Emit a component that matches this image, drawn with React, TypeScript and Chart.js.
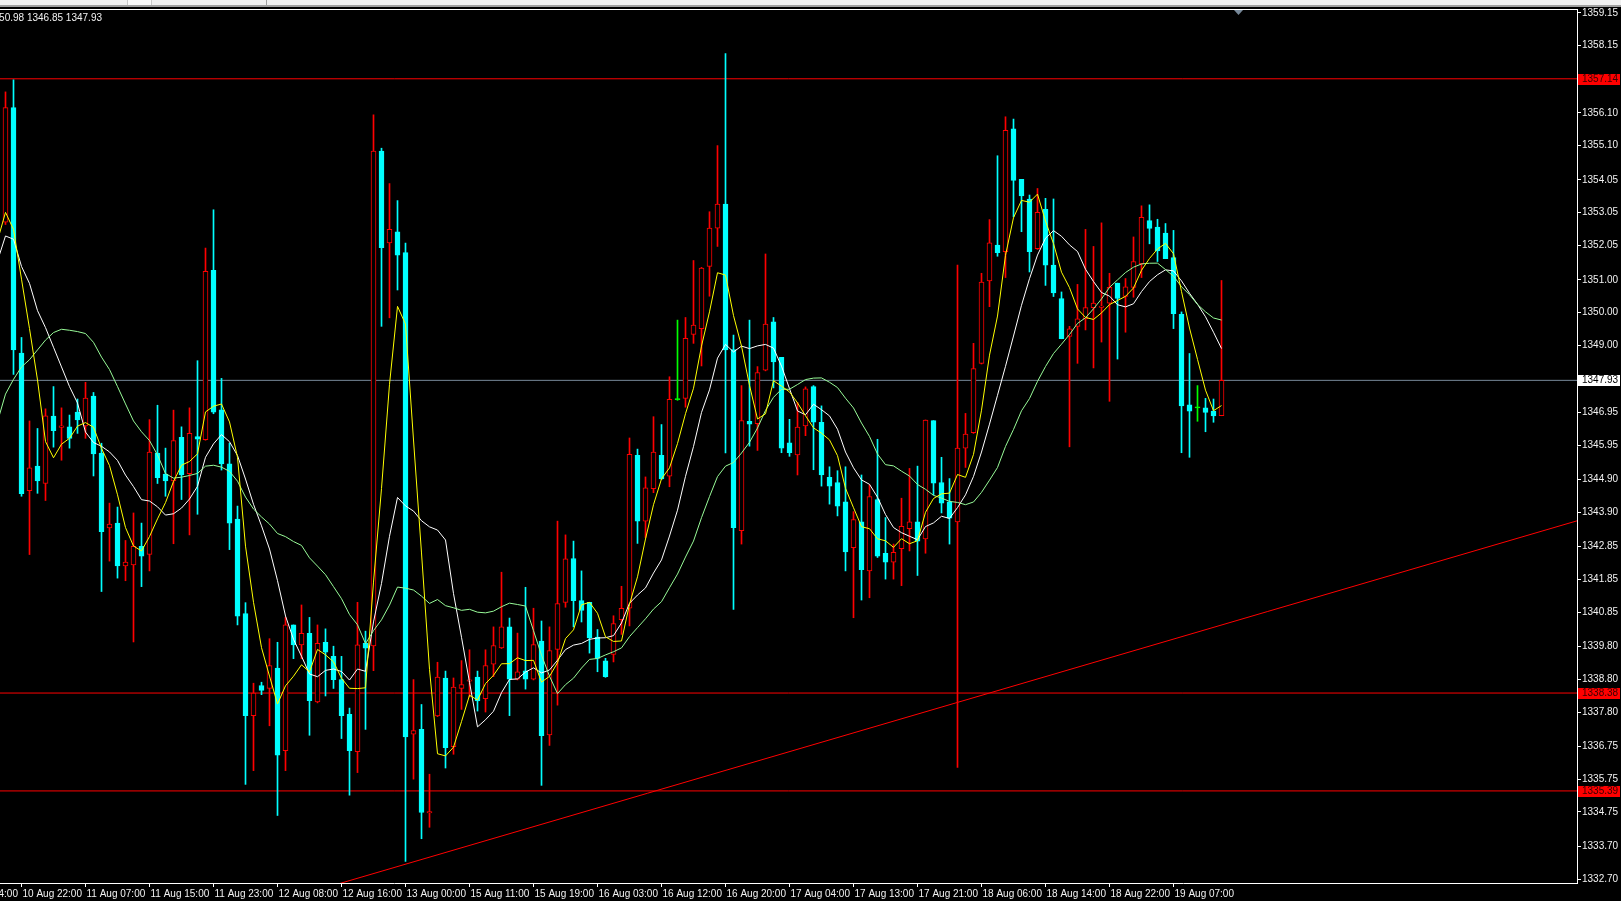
import React, { useEffect, useRef } from 'react';
import { Chart, registerables } from 'chart.js';

Chart.register(...registerables);

// ---- Data (H1 candles, index 0 = 10 Aug 20:00) ----
const opens = [
  1352.76, 1356.26, 1348.76, 1344.56, 1345.31, 1344.78, 1346.84, 1346.49, 1346.51, 1346.96,
  1346.54, 1347.45, 1345.71, 1343.42, 1343.57, 1342.26, 1342.29, 1342.86, 1342.61, 1345.71,
  1345.07, 1344.86, 1346.19, 1345.08, 1346.21, 1346.12, 1351.29, 1347.03, 1345.38, 1343.69,
  1340.81, 1337.69, 1338.61, 1338.52, 1339.14, 1336.62, 1340.46, 1339.85, 1340.20, 1338.11,
  1339.93, 1339.50, 1338.79, 1337.73, 1336.59, 1339.90, 1339.82, 1354.93, 1352.13, 1352.47,
  1351.83, 1337.12, 1337.27, 1334.72, 1337.68, 1338.84, 1336.74, 1338.52, 1338.74, 1338.87,
  1338.21, 1339.26, 1339.76, 1340.40, 1338.80, 1339.06, 1338.80, 1339.97, 1337.10, 1339.71,
  1341.15, 1342.49, 1341.20, 1341.15, 1340.09, 1339.36, 1339.56, 1340.62, 1340.97, 1345.64,
  1343.63, 1344.62, 1345.64, 1345.00, 1347.34, 1347.38, 1349.33, 1349.51, 1351.41, 1352.58,
  1353.31, 1348.87, 1343.34, 1346.68, 1346.61, 1348.24, 1349.72, 1348.63, 1346.02, 1345.65,
  1346.54, 1347.74, 1346.65, 1344.97, 1344.81, 1344.22, 1342.82, 1343.61, 1342.11, 1344.29,
  1342.65, 1342.38, 1342.79, 1343.40, 1343.61, 1343.09, 1346.70, 1344.81, 1344.22, 1343.61,
  1345.86, 1346.33, 1348.45, 1350.97, 1352.06, 1351.86, 1355.61, 1354.07, 1353.47, 1351.95,
  1353.15, 1351.45, 1350.43, 1349.27, 1349.58, 1349.81, 1350.15, 1350.16, 1350.29, 1350.90,
  1350.49, 1350.77, 1351.49, 1352.81, 1352.61, 1352.43, 1351.68, 1349.95, 1347.18, 1347.09,
  1347.09, 1346.99, 1346.85,
];
const highs = [
  1356.74, 1357.11, 1349.24, 1346.69, 1346.46, 1347.06, 1347.74, 1347.09, 1346.87, 1347.36,
  1347.87, 1347.56, 1346.01, 1344.18, 1344.06, 1343.04, 1343.88, 1343.57, 1346.73, 1347.17,
  1345.86, 1347.02, 1346.51, 1347.09, 1348.53, 1351.97, 1353.14, 1347.99, 1346.01, 1344.09,
  1341.14, 1338.68, 1338.71, 1340.04, 1339.93, 1340.69, 1340.46, 1341.07, 1340.69, 1340.46,
  1340.34, 1339.81, 1339.50, 1337.92, 1341.15, 1340.27, 1356.04, 1355.02, 1353.94, 1353.42,
  1352.12, 1338.79, 1338.03, 1335.90, 1339.32, 1339.05, 1338.84, 1339.37, 1339.70, 1339.05,
  1339.70, 1340.40, 1342.07, 1340.67, 1340.21, 1341.61, 1340.97, 1340.58, 1340.40, 1343.63,
  1343.21, 1343.02, 1342.11, 1341.15, 1340.32, 1339.44, 1340.74, 1341.64, 1346.17, 1345.83,
  1344.98, 1346.82, 1346.58, 1348.04, 1349.77, 1349.85, 1351.59, 1351.38, 1353.08, 1355.10,
  1357.91, 1349.31, 1347.77, 1349.77, 1348.35, 1351.79, 1349.85, 1348.63, 1346.74, 1347.26,
  1347.73, 1347.77, 1347.15, 1345.29, 1345.17, 1345.29, 1343.92, 1345.04, 1344.74, 1346.13,
  1343.74, 1342.93, 1344.33, 1345.24, 1345.31, 1346.72, 1346.70, 1345.58, 1344.93, 1351.45,
  1346.92, 1349.06, 1351.20, 1352.84, 1354.79, 1355.98, 1355.91, 1354.07, 1353.59, 1353.79,
  1353.49, 1353.47, 1350.63, 1349.58, 1350.86, 1352.54, 1352.02, 1352.74, 1351.20, 1350.90,
  1351.04, 1352.31, 1353.26, 1353.29, 1352.85, 1352.72, 1352.51, 1350.02, 1348.75, 1347.77,
  1347.38, 1347.36, 1350.98,
];
const lows = [
  1352.69, 1348.11, 1344.39, 1342.61, 1344.48, 1344.26, 1345.89, 1345.49, 1345.86, 1346.31,
  1346.16, 1345.01, 1341.48, 1342.41, 1341.89, 1341.81, 1339.94, 1341.63, 1342.11, 1344.78,
  1344.39, 1342.94, 1344.29, 1343.21, 1343.84, 1346.10, 1346.91, 1345.19, 1342.76, 1340.46,
  1335.59, 1336.01, 1338.33, 1337.38, 1334.64, 1336.01, 1339.43, 1339.43, 1337.09, 1338.08,
  1338.29, 1338.52, 1336.99, 1335.26, 1335.95, 1337.27, 1339.06, 1349.58, 1349.84, 1350.69,
  1333.24, 1335.75, 1333.93, 1334.28, 1337.66, 1336.09, 1336.51, 1337.88, 1338.26, 1337.83,
  1337.80, 1338.88, 1339.74, 1337.69, 1338.78, 1338.50, 1338.78, 1335.56, 1336.78, 1338.01,
  1341.00, 1340.40, 1340.55, 1339.60, 1339.03, 1338.86, 1339.33, 1340.17, 1340.43, 1342.95,
  1343.13, 1344.50, 1344.90, 1344.68, 1347.32, 1347.11, 1349.06, 1348.37, 1350.50, 1352.02,
  1345.71, 1340.93, 1342.93, 1345.92, 1345.79, 1348.22, 1347.70, 1345.72, 1345.61, 1345.04,
  1346.24, 1345.20, 1344.70, 1344.15, 1343.79, 1342.11, 1340.68, 1341.22, 1341.29, 1342.52,
  1341.86, 1341.86, 1341.66, 1342.72, 1341.97, 1342.65, 1344.43, 1343.88, 1342.93, 1336.11,
  1345.27, 1346.31, 1348.43, 1350.18, 1351.72, 1351.07, 1352.92, 1352.47, 1351.24, 1351.93,
  1350.83, 1350.49, 1349.20, 1345.90, 1348.45, 1349.47, 1348.31, 1349.10, 1347.29, 1348.58,
  1349.40, 1350.47, 1351.07, 1352.10, 1351.56, 1351.65, 1349.51, 1345.72, 1345.58, 1346.68,
  1346.36, 1346.65, 1346.85,
];
const closes = [
  1356.26, 1348.86, 1344.47, 1345.26, 1344.86, 1346.85, 1346.39, 1346.54, 1346.16, 1346.72,
  1347.39, 1345.68, 1343.31, 1343.54, 1342.26, 1342.38, 1342.86, 1342.56, 1345.74, 1344.96,
  1344.86, 1346.09, 1345.04, 1346.31, 1346.13, 1351.26, 1346.96, 1345.38, 1343.57, 1340.73,
  1337.69, 1338.38, 1338.46, 1339.22, 1336.48, 1340.46, 1339.85, 1340.20, 1338.15, 1339.90,
  1339.63, 1338.79, 1337.69, 1336.62, 1339.85, 1339.75, 1354.93, 1351.98, 1352.54, 1351.75,
  1337.04, 1337.23, 1334.73, 1334.76, 1338.87, 1336.71, 1338.56, 1338.64, 1338.78, 1338.14,
  1339.22, 1339.83, 1340.40, 1338.80, 1339.03, 1338.80, 1339.86, 1337.08, 1339.68, 1341.11,
  1342.48, 1341.20, 1340.90, 1340.06, 1339.44, 1338.88, 1340.50, 1340.97, 1345.67, 1343.63,
  1344.65, 1345.74, 1344.92, 1347.35, 1347.34, 1349.21, 1349.62, 1351.36, 1352.58, 1353.31,
  1348.86, 1343.43, 1346.70, 1346.59, 1348.17, 1349.65, 1348.49, 1345.86, 1345.72, 1346.50,
  1347.67, 1346.65, 1345.04, 1344.70, 1344.09, 1342.69, 1343.68, 1342.15, 1344.38, 1342.56,
  1342.38, 1342.68, 1343.47, 1343.61, 1343.02, 1346.72, 1344.79, 1344.18, 1343.72, 1345.86,
  1346.29, 1348.29, 1350.93, 1352.13, 1351.83, 1355.57, 1354.04, 1353.56, 1351.86, 1353.06,
  1351.45, 1350.60, 1349.20, 1349.50, 1349.81, 1350.15, 1350.29, 1350.20, 1350.77, 1350.43,
  1350.79, 1351.56, 1352.91, 1352.57, 1351.88, 1351.65, 1349.97, 1347.15, 1346.99, 1347.09,
  1346.95, 1346.84, 1347.93,
];

// Moving-average values before enough history exists (bars -1 .. period-2)
const yellowLead = [1352.2, 1353.06, 1352.54, 1351.02, 1349.51];
const whiteLead = [1351.58, 1352.34, 1352.24, 1351.41, 1350.89, 1350.06, 1349.54, 1348.94, 1348.34, 1347.74];
const greenLead = [
  1346.67, 1347.51, 1347.96, 1348.34, 1348.56, 1348.86, 1349.16, 1349.39, 1349.49, 1349.46,
  1349.42, 1349.36, 1349.09, 1348.64, 1348.26, 1347.74, 1347.21, 1346.69, 1346.36, 1346.09,
];

const xTickIndex = [-6, 2, 10, 18, 26, 34, 42, 50, 58, 66, 74, 82, 90, 98, 106, 114, 122, 130, 138, 146];
const xTickLabels = [
  '10 Aug 14:00', '10 Aug 22:00', '11 Aug 07:00', '11 Aug 15:00', '11 Aug 23:00', '12 Aug 08:00',
  '12 Aug 16:00', '13 Aug 00:00', '15 Aug 11:00', '15 Aug 19:00', '16 Aug 03:00', '16 Aug 12:00',
  '16 Aug 20:00', '17 Aug 04:00', '17 Aug 13:00', '17 Aug 21:00', '18 Aug 06:00', '18 Aug 14:00',
  '18 Aug 22:00', '19 Aug 07:00',
];
const yTickValues = [
  1359.15, 1358.15, 1356.10, 1355.10, 1354.05, 1353.05, 1352.05, 1351.00, 1350.00, 1349.00,
  1346.95, 1345.95, 1344.90, 1343.90, 1342.85, 1341.85, 1340.85, 1339.80, 1338.80, 1337.80,
  1336.75, 1335.75, 1334.75, 1333.70, 1332.70,
];
const redLevels = [1357.14, 1338.38, 1335.39];
const bidLevel = 1347.93;
const trendBars = [30, 196.44];
const trendPrices = [1331.72, 1343.64];
const shiftMarkBar = 154;
const headerText = '1350.98 1346.85 1347.93';

// ---- View settings ----
const X_MIN = -0.6875;
const X_MAX = 196.4375;
const Y_MIN = 1332.578;
const Y_MAX = 1359.272;
const FONT = "'Liberation Sans', Arial, sans-serif";
const UP = '#ff0000';
const DOWN = '#00ffff';
const DOJI = '#00ff00';

function sma(period: number, lead: number[]) {
  const pts: { x: number; y: number }[] = lead.map((v, k) => ({ x: k - 1, y: v }));
  for (let i = period - 1; i < closes.length; i++) {
    let s = 0;
    for (let j = i - period + 1; j <= i; j++) s += closes[j];
    pts.push({ x: i, y: s / period });
  }
  return pts;
}

const overlayPlugin = {
  id: 'mt4overlay',
  afterDraw(chart: any) {
    const { ctx, chartArea, scales } = chart;
    const ys = scales.y;
    const xs = scales.x;
    ctx.save();
    // top frame line
    ctx.fillStyle = '#ffffff';
    ctx.fillRect(chartArea.left, chartArea.top, chartArea.right - chartArea.left, 1);
    // chart shift marker
    const tx = Math.round(xs.getPixelForValue(shiftMarkBar)) + 0.5;
    ctx.fillStyle = '#778899';
    ctx.beginPath();
    ctx.moveTo(tx - 4.5, chartArea.top + 1);
    ctx.lineTo(tx + 4.5, chartArea.top + 1);
    ctx.lineTo(tx, chartArea.top + 6);
    ctx.closePath();
    ctx.fill();
    // price tags on the axis
    ctx.font = `10px ${FONT}`;
    ctx.textAlign = 'left';
    ctx.textBaseline = 'middle';
    const tags = [
      ...redLevels.map((v) => ({ v, bg: '#ff0000', fg: '#3a0000' })),
      { v: bidLevel, bg: '#ffffff', fg: '#000000' },
    ];
    tags.forEach((t) => {
      const py = Math.round(ys.getPixelForValue(t.v));
      ctx.fillStyle = t.bg;
      ctx.fillRect(chartArea.right + 1, py - 5, 42, 11);
      ctx.fillStyle = t.fg;
      ctx.fillText(t.v.toFixed(2), chartArea.right + 5, py + 0.5);
    });
    ctx.restore();
  },
};

export default function App() {
  const canvasRef = useRef<HTMLCanvasElement | null>(null);

  useEffect(() => {
    document.body.style.margin = '0';
    document.body.style.background = '#000';
    const canvas = canvasRef.current;
    if (!canvas) return;

    const dirColor = closes.map((c, i) => (c > opens[i] ? UP : c < opens[i] ? DOWN : DOJI));
    const bodyFill = closes.map((c, i) => (c > opens[i] ? '#000000' : c < opens[i] ? DOWN : DOJI));

    const levelLine = (v: number, color: string) => ({
      type: 'line' as const,
      data: [
        { x: X_MIN, y: v },
        { x: X_MAX, y: v },
      ],
      borderColor: color,
      borderWidth: 1,
      pointRadius: 0,
      order: 4,
    });

    const chart = new Chart(canvas, {
      type: 'bar',
      data: {
        datasets: [
          ...redLevels.map((v) => levelLine(v, '#ff0000')),
          levelLine(bidLevel, '#778899'),
          {
            type: 'line',
            data: trendBars.map((b, k) => ({ x: b, y: trendPrices[k] })),
            borderColor: '#ff0000',
            borderWidth: 1,
            pointRadius: 0,
            order: 4,
          },
          {
            type: 'bar',
            data: closes.map((_, i) => ({ x: i, y: [lows[i], highs[i]] })),
            backgroundColor: dirColor,
            borderWidth: 0,
            barThickness: 1,
            grouped: false,
            order: 3,
          } as any,
          {
            type: 'bar',
            data: closes.map((_, i) => ({ x: i, y: [opens[i], closes[i]] })),
            backgroundColor: bodyFill,
            borderColor: dirColor,
            borderWidth: 1,
            borderSkipped: false,
            barThickness: 5,
            minBarLength: 1,
            grouped: false,
            order: 2,
          } as any,
          {
            type: 'line',
            data: sma(20, greenLead),
            borderColor: '#98fb98',
            borderWidth: 1,
            pointRadius: 0,
            order: 1,
          },
          {
            type: 'line',
            data: sma(10, whiteLead),
            borderColor: '#ffffff',
            borderWidth: 1,
            pointRadius: 0,
            order: 1,
          },
          {
            type: 'line',
            data: sma(5, yellowLead),
            borderColor: '#ffff00',
            borderWidth: 1,
            pointRadius: 0,
            order: 0,
          },
        ] as any,
      },
      options: {
        responsive: false,
        animation: false,
        devicePixelRatio: 1,
        events: [],
        layout: { padding: { top: 9, left: 0, right: 0, bottom: 0 } },
        plugins: { legend: { display: false }, tooltip: { enabled: false } },
        scales: {
          x: {
            type: 'linear',
            position: 'bottom',
            min: X_MIN,
            max: X_MAX,
            offset: false,
            grid: { display: true, drawOnChartArea: false, drawTicks: true, tickLength: 4, color: '#ffffff', offset: false },
            border: { display: true, color: '#ffffff', width: 1 },
            afterBuildTicks: (axis: any) => {
              axis.ticks = xTickIndex.map((value) => ({ value }));
            },
            afterFit: (scale: any) => {
              scale.height = 18;
              scale.paddingLeft = 0;
              scale.paddingRight = 0;
            },
            ticks: {
              autoSkip: false,
              maxRotation: 0,
              minRotation: 0,
              align: 'start',
              labelOffset: 1,
              padding: 1,
              color: '#f2f2f2',
              font: { family: FONT, size: 10 },
              callback: (_v: any, idx: number) => xTickLabels[idx],
            },
          },
          y: {
            type: 'linear',
            position: 'right',
            min: Y_MIN,
            max: Y_MAX,
            beginAtZero: false,
            grid: { display: true, drawOnChartArea: false, drawTicks: true, tickLength: 4, color: '#ffffff' },
            border: { display: true, color: '#ffffff', width: 1 },
            afterBuildTicks: (axis: any) => {
              axis.ticks = yTickValues.map((value) => ({ value }));
            },
            afterFit: (scale: any) => {
              scale.width = 44;
              scale.paddingTop = 0;
              scale.paddingBottom = 0;
            },
            ticks: {
              padding: 1,
              color: '#f2f2f2',
              font: { family: FONT, size: 10 },
              callback: (v: any) => Number(v).toFixed(2),
            },
          },
        },
      } as any,
      plugins: [overlayPlugin],
    });

    return () => chart.destroy();
  }, []);

  return (
    <div
      style={{
        position: 'fixed',
        left: 0,
        top: 0,
        width: 1621,
        height: 901,
        background: '#000',
        overflow: 'hidden',
      }}
    >
      <div style={{ position: 'absolute', left: 0, top: 0, width: 1621, height: 5, background: '#f0f0f0' }} />
      <div style={{ position: 'absolute', left: 0, top: 5, width: 1621, height: 2, background: '#a0a0a0' }} />
      <div style={{ position: 'absolute', left: 127, top: 0, width: 25, height: 5, background: '#fafafa', borderLeft: '1px solid #c8c8c8', borderRight: '1px solid #c8c8c8', boxSizing: 'border-box' }} />
      <div style={{ position: 'absolute', left: 266, top: 0, width: 1, height: 5, background: '#a0a0a0' }} />
      <canvas ref={canvasRef} width={1621} height={901} style={{ position: 'absolute', left: 0, top: 0 }} />
      <div
        style={{
          position: 'absolute',
          left: -12,
          top: 12,
          color: '#f2f2f2',
          font: `10px ${FONT}`,
          whiteSpace: 'pre',
          lineHeight: '12px',
        }}
      >
        {headerText}
      </div>
    </div>
  );
}
